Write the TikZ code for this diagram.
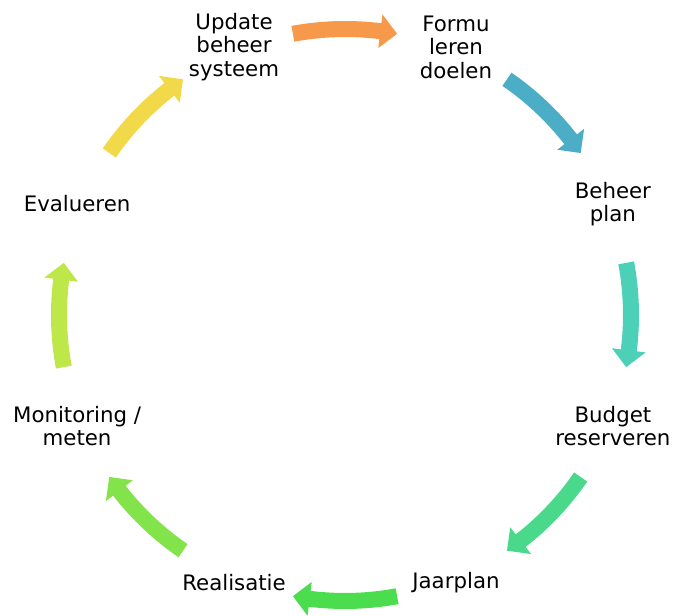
\documentclass[tikz,border=0pt]{standalone}
\usepackage{fontspec}
\setmainfont{DejaVu Sans}
\definecolor{cOrange}{HTML}{F6994A}
\definecolor{cBlue}{HTML}{4BADC6}
\definecolor{cTeal}{HTML}{4CD0B7}
\definecolor{cSea}{HTML}{4AD98B}
\definecolor{cGreen}{HTML}{4CDD4E}
\definecolor{cLime}{HTML}{83E34A}
\definecolor{cYGreen}{HTML}{BEE84A}
\definecolor{cYellow}{HTML}{F1D94A}
\newcommand{\cyclearrow}[2]{%
  \pgfmathsetmacro{\aone}{#1+10.5}%
  \pgfmathsetmacro{\atwo}{#1-10.5}%
  \pgfmathsetmacro{\abase}{#1-10.5+3.4}%
  \fill[#2] (\aone:294) arc[start angle=\aone, end angle=\abase, radius=294]
    -- (\abase:303) -- (\atwo:286) -- (\abase:269) -- (\abase:278)
    arc[start angle=\abase, end angle=\aone, radius=278] -- cycle;
}
\begin{document}
\begin{tikzpicture}[x=1pt,y=1pt,
  lbl/.style={align=center, inner sep=0pt, text=black,
    font=\fontsize{21.3}{23.5}\selectfont}]
\useasboundingbox (-345,-301) rectangle (330,315);
\node[lbl] (upd) at (112.5:290) {Update\\beheer\\systeem};
\node[lbl] (form) at (67.5:290) {Formu\\leren\\doelen};
\node[lbl] (beh) at (22.5:290) {Beheer\\plan};
\node[lbl] (bud) at (-22.5:290) {Budget\\reserveren};
\node[lbl] (jaar) at (-67.5:290) {Jaarplan};
\node[lbl] (real) at (-112.5:290) {Realisatie};
\node[lbl] (mon) at (-157.5:290) {Monitoring /\\meten};
\node[lbl] (eval) at (157.5:290) {Evalueren};
\cyclearrow{90}{cOrange}
\cyclearrow{45}{cBlue}
\cyclearrow{0}{cTeal}
\cyclearrow{-45}{cSea}
\cyclearrow{-90}{cGreen}
\cyclearrow{-135}{cLime}
\cyclearrow{-180}{cYGreen}
\cyclearrow{-225}{cYellow}
\end{tikzpicture}
\end{document}
